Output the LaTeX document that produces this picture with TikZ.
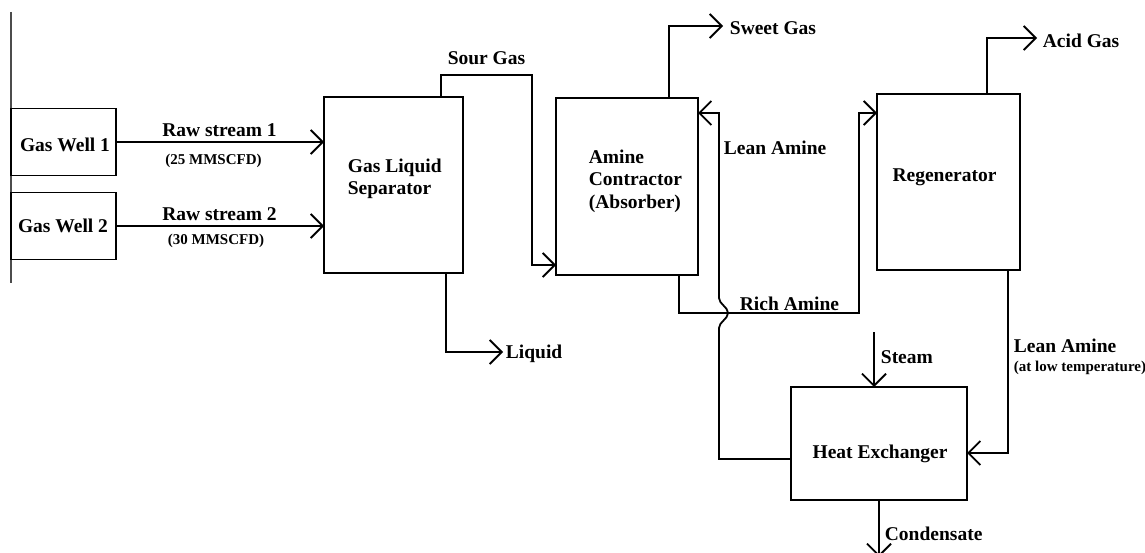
\documentclass[tikz,border=0pt]{standalone}
\usepackage{fontspec}
\setmainfont{Liberation Serif}
\usetikzlibrary{arrows.meta}
\begin{document}
\begin{tikzpicture}[x=1pt,y=-1pt,
  line width=1.8pt, line join=miter,
  box/.style={draw, rectangle, inner sep=0pt, outer sep=0pt},
  lbl/.style={font=\bfseries\fontsize{19.5}{22.5}\selectfont, inner sep=0pt},
  sm/.style={font=\bfseries\fontsize{15}{17}\selectfont, inner sep=0pt},
  arr/.style={-{Straight Barb[length=12pt,width=24pt]}},
  edge line/.style={line width=1.1pt, draw=black!70}]
\useasboundingbox (0,0) rectangle (1145,553);

% left border line
\coordinate (edgeTop) at (11,12);
\coordinate (edgeBot) at (11,283);
\draw[edge line] (edgeTop) -- (edgeBot);

% boxes
\node[box, minimum width=105pt, minimum height=67pt] (gw1) at (63.5,142) {};
\node[box, minimum width=105pt, minimum height=67pt] (gw2) at (63.5,226) {};
\node[box, minimum width=139pt, minimum height=176pt] (sep) at (393.5,185) {};
\node[box, minimum width=142pt, minimum height=177pt] (abs) at (627,186.5) {};
\node[box, minimum width=143pt, minimum height=176pt] (reg) at (948.5,182) {};
\node[box, minimum width=176pt, minimum height=113pt] (hx) at (879,443.5) {};

% box texts
\node[lbl, anchor=base] (gw1t) at (65,152) {Gas Well 1};
\node[lbl, anchor=base] (gw2t) at (63,233) {Gas Well 2};
\node[lbl, anchor=west, align=left] (sept) at (347,179) {Gas Liquid\\Separator};
\node[lbl, anchor=west, align=left] (abst) at (588,181) {Amine\\Contractor\\(Absorber)};
\node[lbl, anchor=base] (regt) at (944.5,182) {Regenerator};
\node[lbl, anchor=base] (hxt) at (880,458) {Heat Exchanger};

% raw streams
\draw[arr] (gw1.east) -- (sep.west |- gw1.east);
\draw[arr] (gw2.east) -- (sep.west |- gw2.east);
\node[lbl, anchor=base] (raw1) at (219.5,137) {Raw stream 1};
\node[sm, anchor=base] (raw1f) at (213.5,165) {(25 MMSCFD)};
\node[lbl, anchor=base] (raw2) at (219.5,221) {Raw stream 2};
\node[sm, anchor=base] (raw2f) at (216,244) {(30 MMSCFD)};

% sour gas
\coordinate (sgA) at (441,75);
\coordinate (sgB) at (532,265);
\draw[arr] (sep.north -| sgA) -- (sgA) -| (sgB) -- (abs.west |- sgB);
\node[lbl, anchor=base] (sgt) at (486.5,65) {Sour Gas};

% liquid
\coordinate (lqA) at (446,352);
\coordinate (liq) at (503,352);
\draw[arr] (sep.south -| lqA) -- (lqA) -- (liq);
\node[lbl, anchor=base west] (lqt) at (505,358.5) {Liquid};

% sweet gas
\coordinate (swA) at (669,26);
\coordinate (sweet) at (723,26);
\draw[arr] (abs.north -| swA) -- (swA) -- (sweet);
\node[lbl, anchor=base west] (swt) at (729,35) {Sweet Gas};

% lean amine to absorber (with hop over rich amine)
\coordinate (laB) at (719,459);
\coordinate (laC) at (719,328);
\coordinate (laD) at (719,298);
\coordinate (laA) at (719,113);
\draw[arr] (hx.west |- laB) -- (laB) -- (laC)
  .. controls (719,322) and (728,319) .. (728,313)
  .. controls (728,307) and (719,304) .. (laD)
  -- (laA) -- (abs.east |- laA);
\node[lbl, anchor=base west] (lat) at (723,155) {Lean Amine};

% rich amine
\coordinate (raA) at (679,313);
\coordinate (raB) at (859,113);
\draw[arr] (abs.south -| raA) -- (raA) -| (raB) -- (reg.west |- raB);
\node[lbl, anchor=base west] (rat) at (739,310) {Rich Amine};

% acid gas
\coordinate (agA) at (987,38);
\coordinate (acid) at (1037,38);
\draw[arr] (reg.north -| agA) -- (agA) -- (acid);
\node[lbl, anchor=base west] (agt) at (1042,48) {Acid Gas};

% lean amine to heat exchanger
\coordinate (lrA) at (1008,453);
\draw[arr] (reg.south -| lrA) -- (lrA) -- (hx.east |- lrA);
\node[lbl, anchor=base west] (lrt) at (1013,352) {Lean Amine};
\node[sm, anchor=base west] (lrt2) at (1013,371) {(at low temperature)};

% steam
\coordinate (steam) at (874,332);
\draw[arr] (steam) -- (hx.north -| steam);
\node[lbl, anchor=base west] (stt) at (880,363) {Steam};

% condensate
\coordinate (cond) at (879,557);
\draw[arr] (hx.south -| cond) -- (cond);
\node[lbl, anchor=base west] (cdt) at (884,540) {Condensate};
\end{tikzpicture}
\end{document}
